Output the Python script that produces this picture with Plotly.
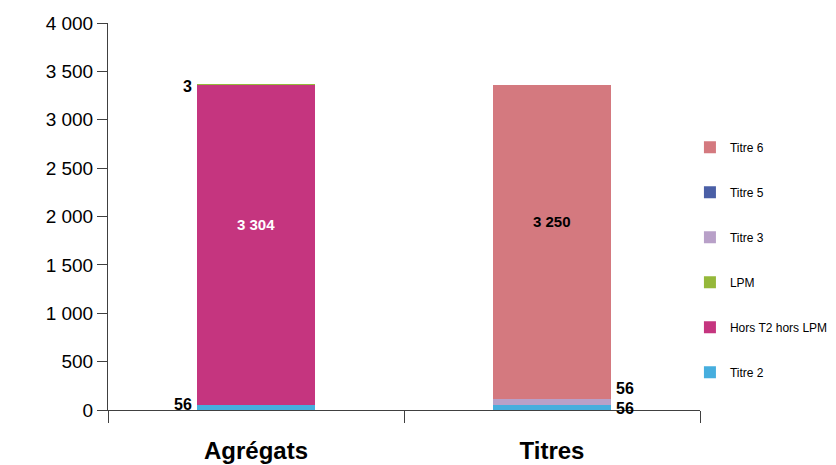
import plotly.graph_objects as go

categories = ["Agrégats", "Titres"]
series_names = ["Titre 2", "Hors T2 hors LPM", "LPM", "Titre 3", "Titre 5", "Titre 6"]
series_values = {
    "Titre 2": [56, 56],
    "Hors T2 hors LPM": [3304, 0],
    "LPM": [3, 0],
    "Titre 3": [0, 56],
    "Titre 5": [0, 0],
    "Titre 6": [0, 3250],
}
colors = {
    "Titre 2": "#46AEDE",
    "Hors T2 hors LPM": "#C5357F",
    "LPM": "#95B83A",
    "Titre 3": "#B8A0C8",
    "Titre 5": "#4A5FA6",
    "Titre 6": "#D4797F",
}
y_ticks = [0, 500, 1000, 1500, 2000, 2500, 3000, 3500, 4000]

label_font = "Liberation Sans, Arial, sans-serif"

fig = go.Figure()
n = len(series_names)
for k, name in enumerate(series_names):
    fig.add_trace(go.Bar(
        x=categories, y=series_values[name], name=name,
        marker=dict(color=colors[name], line=dict(width=0)),
        width=0.4,
        legendgroup=name,
        legendrank=n - k,
        hoverinfo="skip",
    ))

# value labels
cum = {c: 0 for c in categories}
for name in series_names:
    for i, c in enumerate(categories):
        v = series_values[name][i]
        base = cum[c]
        cum[c] += v
        if v <= 0:
            continue
        mid = base + v / 2
        txt = f"<b>{v:,}</b>".replace(",", " ")
        if v >= 1000:
            fig.add_annotation(
                x=i, y=mid, text=txt, showarrow=False,
                xanchor="center", yanchor="middle", yshift=20,
                font=dict(family=label_font, size=15,
                          color="white" if name == "Hors T2 hors LPM" else "black"),
            )
        else:
            if i == 0:
                xpos, xa, xs = i - 0.2, "right", -3
                ys = -2 if name == "LPM" else 3
            else:
                xpos, xa, xs = i + 0.2, "left", 3
                ys = 13 if name == "Titre 3" else -1
            fig.add_annotation(
                x=xpos, y=mid, text=txt, showarrow=False,
                xanchor=xa, yanchor="middle", xshift=xs, yshift=ys,
                font=dict(family=label_font, size=16, color="black"),
            )

fig.update_layout(
    barmode="stack",
    width=836, height=465,
    margin=dict(l=108, r=136, t=23, b=55, autoexpand=False),
    plot_bgcolor="white", paper_bgcolor="white",
    separators=", ",
    showlegend=True,
    legend=dict(
        x=0.983, xanchor="left", y=0.388, yanchor="middle",
        traceorder="grouped", tracegroupgap=26, itemwidth=30,
        font=dict(family=label_font, size=12, color="black"),
        bgcolor="rgba(0,0,0,0)",
    ),
    font=dict(family="Liberation Sans, Arial, sans-serif", color="black"),
)
fig.update_yaxes(
    range=[0, 4000], tickvals=y_ticks, tickformat=",d",
    showgrid=False, zeroline=False,
    showline=True, linecolor="#404040", linewidth=1,
    ticks="outside", ticklen=10, tickcolor="#404040",
    tickfont=dict(size=19, family="Liberation Sans, Arial, sans-serif"),
)
fig.update_xaxes(
    showgrid=False, showline=True, linecolor="#404040", linewidth=1,
    ticks="outside", ticklen=12, tickcolor="#404040", tickson="boundaries",
    ticklabelstandoff=19,
    tickfont=dict(size=24, family="Liberation Sans, Arial, sans-serif", weight="bold"),
)

fig.write_html("out.html", config={"displayModeBar": False},
               post_script="document.body.style.margin='0';")
